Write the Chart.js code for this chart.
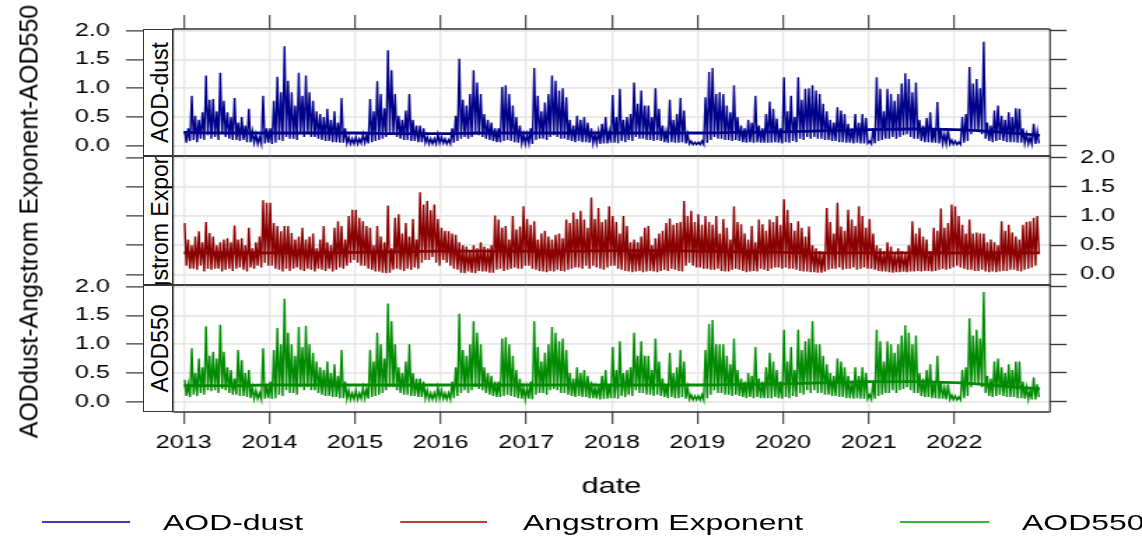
<!DOCTYPE html>
<html>
<head>
<meta charset="utf-8">
<script src="https://cdn.jsdelivr.net/npm/chart.js@4.4.1/dist/chart.umd.min.js"></script>
<style>
  html, body { margin: 0; padding: 0; background: #fff; }
  #wrap { position: relative; width: 1142px; height: 536px; overflow: hidden; font-family: "Liberation Sans", Arial, sans-serif; color: #000; }
  /* the source picture is drawn with wide horizontal text, so the canvases get stretched */
  #stretch { position: absolute; left: 0; top: 0; width: 816px; height: 536px; transform-origin: 0 0; transform: scaleX(1.39951); }
  #stretch canvas { position: absolute; left: 0; top: 0; }
  .lg-line { position: absolute; height: 1.5px; }
  .lg-text { position: absolute; font-size: 22.8px; line-height: 22.8px; white-space: nowrap; }
  .strip { position: absolute; box-sizing: border-box; border: 1.5px solid #333; background: #fff; overflow: hidden; }
  .strip div { position: absolute; left: -133.9px; width: 300px; height: 23px; line-height: 23px; font-size: 23px; text-align: center; white-space: nowrap; transform: rotate(-90deg); }
  #ytitle { position: absolute; left: -190.8px; top: 208.5px; width: 440px; height: 25px; line-height: 25px; font-size: 25px; text-align: center; white-space: nowrap; transform: rotate(-90deg); }
</style>
</head>
<body>
<div id="wrap">
  <div id="stretch">
    <canvas id="c1" width="816" height="536"></canvas>
    <canvas id="c2" width="816" height="536"></canvas>
    <canvas id="c3" width="816" height="536"></canvas>
    <div class="lg-line" style="left:30px;top:521.3px;width:62.9px;background:#3a3ac4"></div>
    <div class="lg-text" style="left:116.5px;top:510.6px">AOD-dust</div>
    <div class="lg-line" style="left:285.8px;top:521.3px;width:62.2px;background:#c43a3a"></div>
    <div class="lg-text" style="left:373.7px;top:510.6px">Angstrom Exponent</div>
    <div class="lg-line" style="left:643.1px;top:521.3px;width:64.3px;background:#3ab43a"></div>
    <div class="lg-text" style="left:730.3px;top:510.6px">AOD550</div>
  </div>
  <div class="strip" style="left:142.7px;top:29px;width:30.3px;height:127px"><div style="top:50.5px">AOD-dust</div></div>
  <div class="strip" style="left:142.7px;top:156px;width:30.3px;height:129px"><div style="top:51.5px">Angstrom Exponent</div></div>
  <div class="strip" style="left:142.7px;top:285px;width:30.3px;height:127px"><div style="top:50.5px">AOD550</div></div>
  <div id="ytitle">AODdust-Angstrom Exponent-AOD550</div>
</div>
<script>
// tick labels
const yearTicks = [2013, 2014, 2015, 2016, 2017, 2018, 2019, 2020, 2021, 2022];
const yTicks = [0, 0.5, 1, 1.5, 2];

// roughly weekly readings (4 per month), Jan 2013 .. Dec 2022
const FIRST_YEAR = 2013;
const PER_YEAR = 48;

const dustValues = [
  .25,.05,.3,.08, .87,.1,.52,.06, .45,.12,.58,.1, 1.22,.18,.8,.12, .81,.15,.6,.1, 1.27,.2,.78,.15, .58,.12,.5,.1, .83,.1,.4,.08, .5,.1,.35,.06, .64,.06,.25,.05, .2,.03,.15,.03, .87,.04,.3,.05,
  .3,.03,.78,.05, 1.2,.1,.93,.08, 1.73,.15,1.13,.12, .93,.12,.7,.1, 1.27,.2,.87,.15, 1.22,.2,.93,.15, .78,.15,.6,.12, .55,.1,.5,.08, .64,.08,.45,.06, .6,.06,.4,.05, .83,.05,.3,.04, .15,.03,.12,.03,
  .15,.03,.12,.04, .2,.05,.18,.04, .81,.06,.6,.08, 1.12,.1,.9,.12, .65,.15,1.66,.2, 1.31,.2,.9,.15, .52,.12,.45,.1, .61,.1,.9,.08, .45,.08,.35,.06, .35,.06,.3,.05, .15,.03,.12,.03, .12,.03,.2,.04,
  .15,.04,.12,.03, .1,.03,.3,.05, .52,.08,1.51,.12, .8,.15,.7,.12, .9,.15,1.31,.2, 1.1,.18,.9,.15, .55,.12,.45,.1, .4,.08,.3,.06, .3,.06,1.02,.08, 1.05,.1,.9,.08, .7,.06,.5,.05, .35,.04,.2,.03,
  .2,.04,.3,.03, 1.35,.1,.87,.12, .6,.12,.75,.1, .9,.15,1.22,.18, 1.13,.15,.96,.12, 1.0,.12,.84,.1, .45,.08,.35,.06, .52,.08,.45,.06, .5,.06,.4,.05, .3,.04,.2,.04, .25,.03,.38,.04, .5,.04,.25,.05,
  .88,.05,.5,.04, .99,.08,.45,.06, .5,.1,.55,.08, 1.1,.15,.73,.12, .96,.12,.7,.1, .7,.1,.5,.08, 1.0,.1,.64,.08, .35,.06,.25,.05, .8,.06,.45,.05, .55,.05,.83,.06, .61,.04,.2,.03, .08,.02,.06,.02,
  .06,.02,.08,.02, .84,.05,1.28,.1, 1.35,.15,.9,.12, .93,.12,.9,.1, .7,.1,.58,.08, 1.05,.1,.5,.08, .35,.06,.3,.05, .45,.06,.4,.05, .87,.06,.35,.05, .3,.05,.55,.05, .77,.05,.64,.06, .47,.05,.3,.04,
  1.19,.06,.6,.05, .87,.08,.5,.06, 1.19,.12,.8,.1, .99,.15,1.0,.12, 1.05,.15,.96,.12, .9,.12,.73,.1, .6,.1,.45,.08, .4,.08,.67,.06, .61,.06,.55,.05, .38,.05,.3,.04, .55,.05,.4,.04, .55,.04,.48,.04,
  .08,.03,.3,.04, 1.19,.08,.99,.1, .6,.12,.99,.12, .9,.15,.78,.12, .9,.15,1.08,.18, 1.26,.2,1.16,.15, .93,.12,1.1,.12, .45,.08,.35,.06, .48,.06,.58,.05, .3,.05,.76,.04, .3,.04,.2,.03, .28,.03,.1,.02,
  .08,.02,.06,.02, .5,.05,.55,.08, 1.37,.2,1.08,.25, 1.16,.25,1.0,.2, 1.81,.12,.4,.08, .35,.06,.61,.08, .7,.1,.52,.08, .45,.06,.58,.06, .5,.06,.65,.05, .64,.05,.3,.04, .2,.03,.15,.03, .38,.03,.25,.04
];

const angValues = [
  .88,.15,.6,.1, .5,.1,.65,.08, .74,.15,.55,.05, .9,.1,.71,.08, .65,.1,.5,.1, .55,.05,.6,.08, .62,.1,.55,.06, .84,.1,.6,.12, .62,.08,.5,.05, .8,.12,.45,.1, .55,.15,.65,.12, 1.27,.2,1.23,.15,
  1.23,.15,.88,.1, .83,.08,.74,.05, .83,.1,.83,.06, .71,.1,.6,.12, .65,.08,.8,.06, .6,.1,.65,.08, .7,.05,.45,.1, .6,.08,.83,.06, .55,.1,.5,.05, .8,.08,.91,.12, .83,.1,.6,.15, 1.0,.2,1.11,.25,
  1.11,.2,.97,.15, .91,.15,.83,.1, .8,.08,.5,.05, .83,.05,.65,.03, .55,.02,1.18,.03, .45,.08,.97,.1, 1.03,.08,.7,.06, .88,.1,.65,.08, .95,.12,.6,.1, 1.41,.2,1.2,.25, 1.26,.25,1.1,.3, 1.2,.2,.95,.15,
  .8,.25,.75,.2, .74,.15,.7,.1, .68,.08,.55,.03, .5,.02,.48,.05, .4,.03,.5,.02, .45,.06,.55,.05, .48,.05,.45,.03, .5,.03,1.01,.08, .94,.1,.8,.06, .83,.08,.6,.1, 1.0,.12,.77,.1, .82,.1,1.17,.15,
  .95,.15,.85,.1, .91,.08,.6,.06, .7,.05,.75,.04, .65,.06,.6,.05, .68,.08,.7,.06, .62,.05,.94,.08, .88,.1,1.06,.12, .95,.12,1.09,.1, .94,.15,.8,.1, 1.32,.15,.95,.12, 1.14,.1,.9,.08, .94,.12,1.17,.15,
  1.0,.15,.9,.1, .7,.08,1.0,.06, .83,.05,.55,.04, .6,.05,.55,.06, .65,.04,.8,.05, .83,.06,.5,.05, .62,.04,.7,.06, .75,.08,.88,.06, .96,.1,.85,.08, .88,.06,.9,.05, 1.26,.15,1.0,.2, 1.09,.15,.9,.12,
  1.03,.12,.85,.1, 1.0,.1,.9,.08, .85,.08,1.0,.1, .7,.06,.95,.05, .8,.05,.6,.08, 1.17,.1,.9,.08, .86,.06,.7,.04, .6,.05,.83,.06, .55,.05,.94,.1, .86,.08,.75,.06, .94,.1,.9,.12, 1.0,.12,.85,.1,
  1.29,.12,1.11,.1, .88,.1,.75,.08, .91,.06,.8,.05, .65,.05,.82,.04, .5,.04,.45,.03, .4,.03,.35,.05, 1.14,.08,.9,.1, .7,.1,1.23,.12, .82,.08,.75,.1, 1.11,.1,.94,.12, .83,.08,1.17,.1, 1.0,.12,.8,.1,
  .95,.1,.7,.08, .5,.06,.45,.05, .4,.05,.55,.04, .48,.03,.35,.04, .45,.04,.4,.05, .35,.04,.5,.05, .91,.05,.7,.06, .8,.05,.65,.06, .6,.06,.4,.05, .8,.06,.75,.08, 1.13,.1,.8,.08, .88,.1,1.2,.12,
  1.17,.15,1.0,.12, .85,.1,.7,.08, .94,.08,.7,.06, .72,.06,.7,.08, .7,.05,.55,.04, .6,.05,.55,.04, .5,.05,.91,.06, .75,.06,.85,.08, .72,.08,.65,.06, .6,.05,.85,.08, .9,.1,.91,.12, .97,.15,1.0,.37
];

const aodValues = [
  .38,.1,.3,.08, .93,.12,.5,.1, .75,.15,.6,.12, 1.31,.2,.8,.18, .87,.2,.75,.15, 1.34,.22,.87,.2, .6,.15,.55,.12, .4,.12,.9,.1, .72,.1,.5,.08, .55,.06,.25,.05, .2,.05,.15,.04, .93,.05,.3,.06,
  .35,.05,.9,.06, 1.28,.12,1.0,.1, 1.79,.2,1.2,.15, 1.0,.15,.8,.12, 1.3,.25,.95,.2, 1.32,.25,1.0,.2, .85,.2,.7,.15, .6,.12,.55,.1, .7,.1,.5,.08, .65,.08,.45,.06, .9,.06,.35,.05, .2,.04,.15,.04,
  .2,.04,.15,.05, .25,.06,.22,.05, .9,.08,.7,.1, 1.2,.12,1.0,.15, .75,.2,1.71,.25, 1.4,.25,1.0,.2, .6,.15,.5,.12, .7,.12,1.0,.1, .5,.1,.4,.08, .4,.08,.35,.06, .2,.04,.15,.04, .15,.04,.25,.05,
  .2,.05,.15,.04, .15,.04,.35,.06, .6,.1,1.53,.15, .9,.2,.8,.15, 1.0,.2,1.4,.25, 1.2,.22,1.0,.2, .6,.15,.5,.12, .45,.1,.35,.08, .35,.08,1.1,.1, 1.12,.12,1.0,.1, .8,.08,.55,.06, .4,.05,.25,.04,
  .25,.05,.35,.04, 1.4,.12,.95,.15, .7,.15,.85,.12, 1.0,.2,1.3,.22, 1.2,.2,1.05,.15, 1.1,.15,.9,.12, .5,.1,.4,.08, .6,.1,.5,.08, .55,.08,.45,.06, .35,.06,.25,.05, .3,.04,.45,.05, .55,.05,.3,.06,
  .95,.06,.55,.05, 1.05,.1,.5,.08, .55,.12,.6,.1, 1.2,.2,.8,.15, 1.05,.15,.8,.12, .8,.12,.55,.1, 1.1,.12,.7,.1, .4,.08,.3,.06, .85,.08,.5,.06, .6,.06,.9,.08, .7,.05,.25,.04, .12,.03,.1,.03,
  .1,.03,.12,.03, .9,.06,1.35,.12, 1.42,.2,1.0,.15, 1.0,.15,1.0,.12, .8,.12,.65,.1, 1.1,.12,.55,.1, .4,.08,.35,.06, .5,.08,.45,.06, .95,.08,.4,.06, .35,.06,.6,.06, .85,.06,.7,.08, .55,.06,.35,.05,
  1.25,.08,.7,.06, .95,.1,.55,.08, 1.25,.15,.9,.12, 1.05,.2,1.1,.15, 1.4,.2,1.0,.15, 1.0,.15,.8,.12, .65,.12,.5,.1, .45,.1,.75,.08, .7,.08,.6,.06, .45,.06,.35,.05, .6,.06,.45,.05, .6,.05,.5,.05,
  .12,.04,.35,.05, 1.25,.1,1.05,.12, .7,.15,1.05,.15, 1.0,.2,.85,.15, 1.0,.2,1.15,.22, 1.33,.25,1.2,.2, 1.0,.15,1.15,.15, .5,.1,.4,.08, .55,.08,.65,.06, .35,.06,.8,.05, .35,.05,.25,.04, .3,.04,.12,.03,
  .1,.03,.08,.03, .55,.06,.6,.1, 1.45,.25,1.15,.3, 1.25,.3,1.1,.25, 1.91,.15,.45,.1, .4,.08,.7,.1, .75,.12,.6,.1, .5,.08,.65,.08, .55,.08,.7,.06, .7,.06,.35,.05, .25,.04,.2,.04, .42,.04,.3,.08
];

// smooth trend lines, read every half year
const trendX = [2013, 2013.5, 2014, 2014.5, 2015, 2015.5, 2016, 2016.5, 2017, 2017.5, 2018, 2018.5, 2019, 2019.5, 2020, 2020.5, 2021, 2021.5, 2022, 2022.5, 2023];
const dustTrend = [.23, .22, .22, .22, .22, .21, .21, .22, .22, .22, .22, .22, .22, .23, .24, .26, .28, .29, .28, .24, .18];
const angTrend  = [.37, .37, .37, .37, .38, .39, .40, .40, .40, .40, .41, .41, .40, .39, .38, .37, .37, .37, .37, .37, .37];
const aodTrend  = [.28, .28, .29, .29, .29, .29, .29, .29, .29, .29, .29, .29, .29, .30, .31, .33, .35, .35, .33, .28, .22];

const X_MIN = 2012.875, X_MAX = 2023.118;
const Y_MIN = -0.18, Y_MAX = 2.03;

// layout in canvas units (the canvas is stretched 1142/816 wide)
const S = 1142 / 816;
const PLOT_LEFT = 173 / S;
const PLOT_RIGHT = 1050 / S;
const GRID = "#e6e6e6";
const TICK = "#3a3a3a";
const FONT = "'Liberation Sans', Arial, sans-serif";

Chart.defaults.font.family = FONT;
Chart.defaults.color = "#000";

// draws the black box round each panel
const frame = {
  id: "frame",
  afterDraw(chart) {
    const { ctx, chartArea: a } = chart;
    ctx.save();
    ctx.strokeStyle = "#333";
    ctx.lineWidth = 1.5;
    ctx.beginPath();
    ctx.moveTo(a.left, a.top); ctx.lineTo(a.right, a.top);
    ctx.moveTo(a.left, a.bottom); ctx.lineTo(a.right, a.bottom);
    ctx.stroke();
    ctx.lineWidth = 1.1;
    ctx.beginPath();
    ctx.moveTo(a.left, a.top); ctx.lineTo(a.left, a.bottom);
    ctx.moveTo(a.right, a.top); ctx.lineTo(a.right, a.bottom);
    ctx.stroke();
    ctx.restore();
  }
};

function fixSize(w, h) {
  return (s) => {
    if (w !== undefined) s.width = w;
    if (h !== undefined) s.height = h;
    s.paddingTop = s.paddingBottom = s.paddingLeft = s.paddingRight = 0;
  };
}

function makePanel(p) {
  const points = p.values.map((v, i) => ({ x: FIRST_YEAR + (i + 0.5) / PER_YEAR, y: v }));
  const trend = trendX.map((x, i) => ({ x: x, y: p.trend[i] }));

  let xHeight = 0, padTop = p.top, padBottom = 536 - p.bottom;
  if (p.xAxis === "top") { xHeight = p.top; padTop = 0; }
  if (p.xAxis === "bottom") { xHeight = 88.2; padBottom = 536 - (p.bottom + xHeight); }

  const yTickCfg = (show, pad) => ({
    display: show, padding: pad, color: "#000",
    font: { size: 18 },
    callback: (v) => Number(v).toFixed(1)
  });

  return new Chart(document.getElementById(p.id), {
    type: "line",
    data: {
      datasets: [
        { data: trend, borderColor: p.color, borderWidth: 2.8, pointRadius: 0, cubicInterpolationMode: "monotone", xAxisID: "x", yAxisID: "yL" },
        { data: points, borderColor: p.color, borderWidth: 1.4, pointRadius: 0, tension: 0, xAxisID: "x", yAxisID: "yL" }
      ]
    },
    options: {
      responsive: false,
      animation: false,
      events: [],
      devicePixelRatio: 1,
      layout: { padding: { left: 0, right: 0, top: padTop, bottom: padBottom } },
      plugins: { legend: { display: false }, tooltip: { enabled: false } },
      scales: {
        x: {
          type: "linear", min: X_MIN, max: X_MAX,
          position: p.xAxis === "top" ? "top" : "bottom",
          afterBuildTicks: (s) => { s.ticks = yearTicks.map((v) => ({ value: v })); },
          afterFit: fixSize(undefined, xHeight),
          ticks: {
            display: p.xAxis === "bottom", autoSkip: false, maxRotation: 0, padding: 8.2,
            color: "#000", font: { size: 18 }, callback: (v) => String(v)
          },
          grid: {
            color: GRID, lineWidth: 1.3,
            drawTicks: p.xAxis !== "none",
            tickLength: p.xAxis === "top" ? 14 : 12,
            tickColor: TICK, tickWidth: 1.1
          },
          border: { display: false },
          title: {
            display: p.xAxis === "bottom", text: "date", color: "#000",
            font: { size: 22 }, padding: 0
          }
        },
        yL: {
          type: "linear", position: "left", min: Y_MIN, max: Y_MAX,
          afterBuildTicks: (s) => { s.ticks = yTicks.map((v) => ({ value: v })); },
          afterFit: fixSize(PLOT_LEFT, undefined),
          ticks: yTickCfg(p.yLabels === "left", 11.4),
          grid: { color: GRID, lineWidth: 1.8, tickLength: PLOT_LEFT - 90, tickColor: TICK, tickWidth: 1.4 },
          border: { display: false }
        },
        yR: {
          type: "linear", position: "right", min: Y_MIN, max: Y_MAX,
          afterBuildTicks: (s) => { s.ticks = yTicks.map((v) => ({ value: v })); },
          afterFit: fixSize(816 - PLOT_RIGHT, undefined),
          ticks: yTickCfg(p.yLabels === "right", 9.4),
          grid: { drawOnChartArea: false, tickLength: 12, tickColor: TICK, tickWidth: 1.4 },
          border: { display: false }
        }
      }
    },
    plugins: [frame]
  });
}

makePanel({ id: "c1", top: 29, bottom: 156, values: dustValues, trend: dustTrend, color: "#00008b", yLabels: "left", xAxis: "top" });
makePanel({ id: "c2", top: 156, bottom: 285, values: angValues, trend: angTrend, color: "#8b0000", yLabels: "right", xAxis: "none" });
makePanel({ id: "c3", top: 285, bottom: 412, values: aodValues, trend: aodTrend, color: "#008b00", yLabels: "left", xAxis: "bottom" });
</script>
</body>
</html>
